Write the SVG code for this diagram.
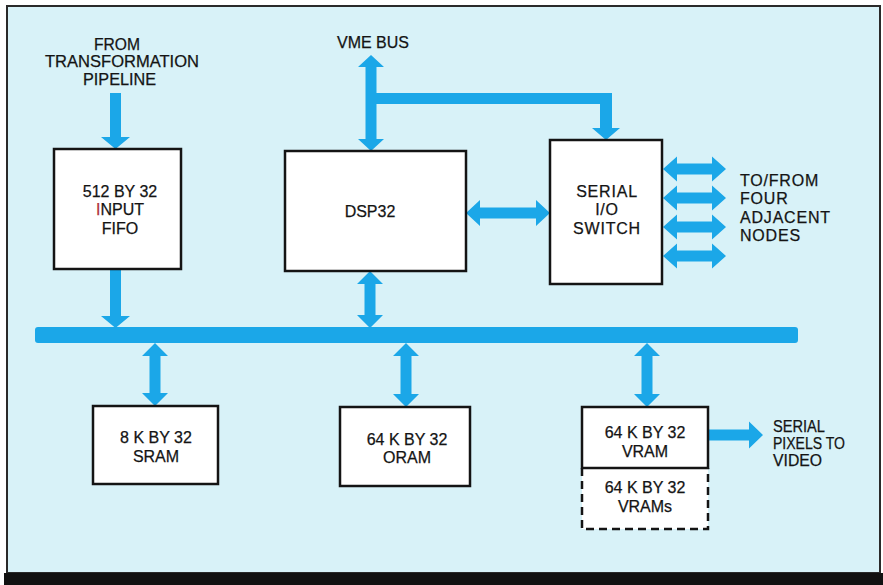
<svg xmlns="http://www.w3.org/2000/svg" width="883" height="585" viewBox="0 0 883 585">
<style>
.bg{fill:#d8f2f8;stroke:#2a2a2a;stroke-width:2}
.box{fill:#ffffff;stroke:#141414;stroke-width:2.5}
.dash{fill:#ffffff;stroke:#141414;stroke-width:2.5;stroke-dasharray:8 5}
.arr{fill:#1ba7e8;stroke:none}
text{font-family:"Liberation Sans",Arial,sans-serif;font-size:16px;fill:#141414;stroke:#141414;stroke-width:0.25}
.c{text-anchor:middle}
.lbl{letter-spacing:0.8px}
</style>
<rect x="0" y="0" width="883" height="585" fill="#ffffff"/>
<rect class="bg" x="7" y="6" width="873" height="567"/>
<rect x="4" y="573" width="879" height="12" fill="#111111"/>

<g id="connectors">
  <path class="arr" d="M110,93 H121 V137 H130 L115.5,149 L101,137 H110 Z"/>
  <path class="arr" d="M110,269 H121 V316 H130 L115.5,328 L101,316 H110 Z"/>
  <path class="arr" d="M370,271 L383,284 H375.5 V315 H383 L370,328 L357,315 H364.5 V284 H357 Z"/>
  <path class="arr" d="M371,55 L384,67 H376.5 V139 H384 L371,151 L358,139 H365.5 V67 H358 Z"/>
  <path class="arr" d="M376,93 H612 V128 H620 L606,140 L592,128 H600 V104 H376 Z"/>
  <path class="arr" d="M466,213 L480,200 V207.5 H536 V200 L550,213 L536,226 V218.5 H480 V226 Z"/>
  <path class="arr" d="M663,169 L677,156.5 V163.5 H712 V156.5 L726,169 L712,181.5 V174.5 H677 V181.5 Z"/>
  <path class="arr" d="M663,198 L677,185.5 V192.5 H712 V185.5 L726,198 L712,210.5 V203.5 H677 V210.5 Z"/>
  <path class="arr" d="M663,227 L677,214.5 V221.5 H712 V214.5 L726,227 L712,239.5 V232.5 H677 V239.5 Z"/>
  <path class="arr" d="M663,256 L677,243.5 V250.5 H712 V243.5 L726,256 L712,268.5 V261.5 H677 V268.5 Z"/>
  <rect class="arr" x="35" y="327" width="763" height="16" rx="3"/>
  <path class="arr" d="M155,343 L168,356 H160.5 V393 H168 L155,406 L142,393 H149.5 V356 H142 Z"/>
  <path class="arr" d="M406,343 L419,356 H411.5 V394 H419 L406,407 L393,394 H400.5 V356 H393 Z"/>
  <path class="arr" d="M647,343 L660,356 H652.5 V394 H660 L647,407 L634,394 H641.5 V356 H634 Z"/>
  <path class="arr" d="M709,429.5 H749 V421.5 L763,435 L749,448.5 V440.5 H709 Z"/>
</g>

<g id="label-from">
  <text class="c" x="117" y="50" textLength="46" lengthAdjust="spacingAndGlyphs">FROM</text>
  <text class="c" x="122" y="67" textLength="154" lengthAdjust="spacingAndGlyphs">TRANSFORMATION</text>
  <text class="c" x="119.5" y="85" textLength="73" lengthAdjust="spacingAndGlyphs">PIPELINE</text>
</g>
<g id="label-vme">
  <text class="c" x="373" y="48">VME BUS</text>
</g>
<g id="label-nodes">
  <text class="lbl" x="740" y="186">TO/FROM</text>
  <text class="lbl" x="740" y="204">FOUR</text>
  <text class="lbl" x="740" y="223">ADJACENT</text>
  <text class="lbl" x="740" y="241">NODES</text>
</g>
<g id="label-video">
  <text x="773" y="432" textLength="52" lengthAdjust="spacingAndGlyphs">SERIAL</text>
  <text x="773" y="449" textLength="72" lengthAdjust="spacingAndGlyphs">PIXELS TO</text>
  <text x="773" y="466" textLength="49" lengthAdjust="spacingAndGlyphs">VIDEO</text>
</g>

<g id="fifo">
  <rect class="box" x="54" y="149" width="127" height="120"/>
  <text class="c" x="120" y="197">512 BY 32</text>
  <text class="c" x="120" y="215"><tspan fill="#b0303a" stroke="#b0303a">I</tspan>NPUT</text>
  <text class="c" x="120" y="234">FIFO</text>
</g>
<g id="dsp32">
  <rect class="box" x="285" y="151" width="181" height="120"/>
  <text class="c" x="370" y="217">DSP32</text>
</g>
<g id="serial-switch">
  <rect class="box" x="550" y="140" width="112" height="144"/>
  <text class="c lbl" x="607" y="197">SERIAL</text>
  <text class="c lbl" x="607" y="215">I/O</text>
  <text class="c lbl" x="607" y="234">SWITCH</text>
</g>
<g id="sram">
  <rect class="box" x="93" y="406" width="125" height="78"/>
  <text class="c" x="156" y="443">8 K BY 32</text>
  <text class="c" x="156" y="462">SRAM</text>
</g>
<g id="dram">
  <rect class="box" x="340" y="407" width="130" height="79"/>
  <text class="c" x="407" y="445">64 K BY 32</text>
  <text class="c" x="407" y="463">ORAM</text>
</g>
<g id="vrams">
  <path class="dash" d="M582,468 V529 H708 V468"/>
  <text class="c" x="645" y="493">64 K BY 32</text>
  <text class="c" x="645" y="512">VRAMs</text>
</g>
<g id="vram">
  <rect class="box" x="582" y="407" width="126" height="61"/>
  <text class="c" x="645" y="438">64 K BY 32</text>
  <text class="c" x="645" y="457">VRAM</text>
</g>
</svg>
